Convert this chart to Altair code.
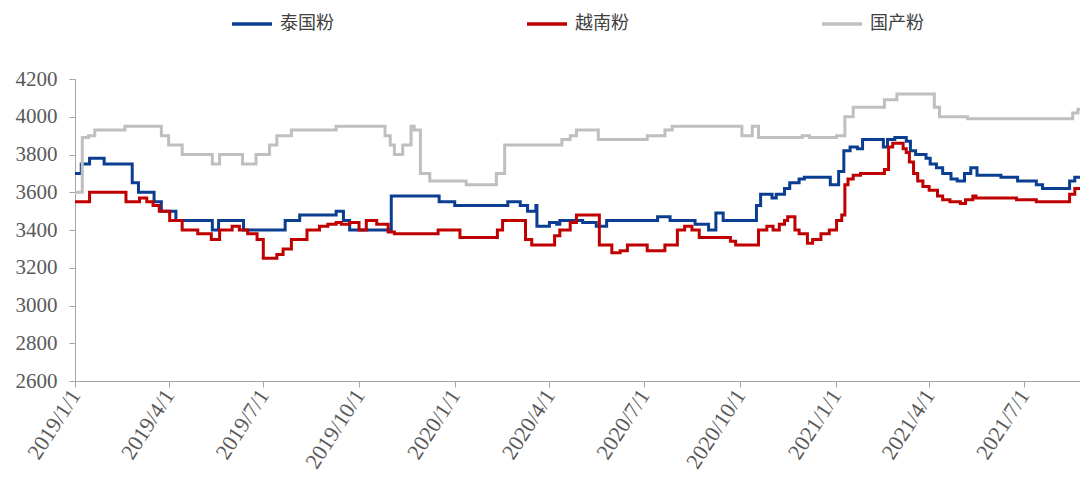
import altair as alt
import pandas as pd

series_names = ["泰国粉", "越南粉", "国产粉"]
series_colors = ["#0b3d91", "#c00000", "#bfbfbf"]

thai_dates = ["2019-01-01", "2019-01-07", "2019-01-15", "2019-01-29", "2019-02-25", "2019-03-03",
              "2019-03-18", "2019-03-25", "2019-04-08", "2019-05-13", "2019-05-19", "2019-06-12",
              "2019-07-22", "2019-08-05", "2019-09-09", "2019-09-16", "2019-09-22", "2019-11-01",
              "2019-12-17", "2020-01-01", "2020-02-21", "2020-03-04", "2020-03-11", "2020-03-19",
              "2020-03-20", "2020-04-01", "2020-04-08", "2020-04-11", "2020-05-03", "2020-05-16",
              "2020-05-26", "2020-07-14", "2020-07-26", "2020-08-19", "2020-09-01", "2020-09-08",
              "2020-09-15", "2020-10-17", "2020-10-21", "2020-11-01", "2020-11-05", "2020-11-13",
              "2020-11-18", "2020-11-27", "2020-12-02", "2020-12-27", "2021-01-04", "2021-01-09",
              "2021-01-15", "2021-01-22", "2021-01-27", "2021-02-16", "2021-02-20", "2021-02-27",
              "2021-03-10", "2021-03-14", "2021-03-19", "2021-03-29", "2021-04-02", "2021-04-08",
              "2021-04-14", "2021-04-22", "2021-04-28", "2021-05-05", "2021-05-11", "2021-05-17",
              "2021-06-09", "2021-06-25", "2021-07-13", "2021-07-19", "2021-08-14", "2021-08-19",
              "2021-08-26", "2021-08-30", "2021-09-01"]
thai_values = [3700, 3750, 3780, 3750, 3650, 3600,
               3550, 3500, 3450, 3400, 3450, 3400,
               3450, 3480, 3500, 3450, 3400, 3580,
               3550, 3530, 3550, 3530, 3500, 3530,
               3420, 3440, 3430, 3450, 3440, 3420,
               3450, 3470, 3450, 3430, 3400, 3490,
               3450, 3530, 3590, 3570, 3590, 3620,
               3650, 3670, 3680, 3640, 3710, 3820,
               3840, 3830, 3880, 3840, 3880, 3890,
               3870, 3820, 3800, 3780, 3750, 3730,
               3700, 3670, 3660, 3700, 3730, 3690,
               3680, 3660, 3640, 3620, 3660, 3680,
               3710, 3730, 3730]

viet_dates = ["2019-01-01", "2019-01-15", "2019-02-19", "2019-03-04", "2019-03-11", "2019-03-17",
              "2019-03-23", "2019-04-02", "2019-04-14", "2019-04-29", "2019-05-12", "2019-05-20",
              "2019-06-01", "2019-06-08", "2019-06-16", "2019-06-25", "2019-07-01", "2019-07-14",
              "2019-07-20", "2019-07-28", "2019-08-12", "2019-08-24", "2019-09-01", "2019-09-09",
              "2019-09-14", "2019-09-22", "2019-10-01", "2019-10-08", "2019-10-18", "2019-10-29",
              "2019-11-04", "2019-12-16", "2020-01-06", "2020-02-11", "2020-02-16", "2020-03-09",
              "2020-03-15", "2020-04-06", "2020-04-11", "2020-04-21", "2020-04-27", "2020-05-19",
              "2020-05-31", "2020-06-08", "2020-06-15", "2020-07-04", "2020-07-21", "2020-08-02",
              "2020-08-09", "2020-08-16", "2020-08-23", "2020-09-22", "2020-09-27", "2020-10-19",
              "2020-10-27", "2020-11-02", "2020-11-08", "2020-11-13", "2020-11-16", "2020-11-23",
              "2020-11-27", "2020-12-05", "2020-12-10", "2020-12-18", "2020-12-26", "2021-01-02",
              "2021-01-07", "2021-01-10", "2021-01-13", "2021-01-18", "2021-01-25", "2021-02-17",
              "2021-02-21", "2021-02-25", "2021-03-07", "2021-03-10", "2021-03-13", "2021-03-17",
              "2021-03-21", "2021-03-26", "2021-04-01", "2021-04-09", "2021-04-14", "2021-04-21",
              "2021-05-01", "2021-05-06", "2021-05-13", "2021-05-16", "2021-06-24", "2021-07-13",
              "2021-08-14", "2021-08-19", "2021-08-30", "2021-09-01"]
viet_values = [3550, 3600, 3550, 3570, 3550, 3530,
               3500, 3450, 3400, 3380, 3350, 3400,
               3420, 3400, 3380, 3350, 3250, 3270,
               3300, 3350, 3400, 3420, 3430, 3440,
               3430, 3440, 3400, 3450, 3430, 3390,
               3380, 3400, 3360, 3400, 3450, 3350,
               3320, 3370, 3400, 3440, 3480, 3320,
               3280, 3290, 3320, 3290, 3320, 3400,
               3420, 3400, 3360, 3340, 3320, 3400,
               3420, 3400, 3430, 3450, 3470, 3400,
               3380, 3330, 3350, 3380, 3400, 3450,
               3480, 3640, 3670, 3690, 3700, 3720,
               3840, 3860, 3830, 3810, 3760, 3700,
               3660, 3630, 3610, 3580, 3560, 3550,
               3540, 3560, 3580, 3570, 3560, 3550,
               3590, 3620, 3670, 3670]

dom_dates = ["2019-01-01", "2019-01-08", "2019-01-14", "2019-01-20", "2019-02-18", "2019-03-25",
             "2019-04-01", "2019-04-14", "2019-05-13", "2019-05-20", "2019-06-11", "2019-06-24",
             "2019-07-07", "2019-07-14", "2019-07-28", "2019-09-09", "2019-10-26", "2019-10-31",
             "2019-11-04", "2019-11-12", "2019-11-20", "2019-11-23", "2019-11-29", "2019-12-08",
             "2020-01-12", "2020-02-10", "2020-02-18", "2020-04-13", "2020-04-21", "2020-04-27",
             "2020-05-18", "2020-07-04", "2020-07-21", "2020-07-28", "2020-10-03", "2020-10-13",
             "2020-10-19", "2020-11-30", "2020-12-07", "2021-01-02", "2021-01-10", "2021-01-18",
             "2021-02-17", "2021-03-01", "2021-04-06", "2021-04-11", "2021-05-08", "2021-08-17",
             "2021-08-22", "2021-08-27", "2021-09-01"]
dom_values = [3600, 3890, 3900, 3930, 3950, 3900,
              3850, 3800, 3750, 3800, 3750, 3800,
              3850, 3900, 3930, 3950, 3900, 3850,
              3800, 3850, 3950, 3930, 3700, 3660,
              3640, 3700, 3850, 3880, 3900, 3930,
              3880, 3900, 3930, 3950, 3900, 3950,
              3890, 3900, 3890, 3900, 4000, 4050,
              4090, 4120, 4050, 4000, 3990, 4020,
              4040, 4050, 4050]

y_ticks = [2600, 2800, 3000, 3200, 3400, 3600, 3800, 4000, 4200]
x_ticks = ["2019-01-01", "2019-04-01", "2019-07-01", "2019-10-01", "2020-01-01", "2020-04-01",
           "2020-07-01", "2020-10-01", "2021-01-01", "2021-04-01", "2021-07-01"]

frames = []
for name, d, v in [(series_names[0], thai_dates, thai_values),
                   (series_names[1], viet_dates, viet_values),
                   (series_names[2], dom_dates, dom_values)]:
    frames.append(pd.DataFrame({"date": d, "value": v, "series": name}))
df = pd.concat(frames, ignore_index=True)

x_tick_ms = [int(pd.Timestamp(t).timestamp() * 1000) for t in x_ticks]

chart = alt.Chart(df).mark_line(interpolate="step-after", strokeWidth=3, clip=True).encode(
    x=alt.X("date:T",
            scale=alt.Scale(domain=["2019-01-01", "2021-08-24"], nice=False),
            axis=alt.Axis(values=x_tick_ms, format="%Y/%-m/%-d", labelAngle=-57, title=None,
                          grid=False, labelFont="Liberation Serif", labelFontSize=22,
                          labelColor="#595959", domainColor="#a6a6a6", tickColor="#a6a6a6",
                          tickSize=6, labelPadding=4, labelAlign="right", labelBaseline="middle",
                          labelOverlap=False, labelFlush=False)),
    y=alt.Y("value:Q",
            scale=alt.Scale(domain=[2600, 4200], nice=False, zero=False),
            axis=alt.Axis(values=y_ticks, format="d", title=None, grid=False,
                          labelFont="Liberation Serif",
                          labelFontSize=21, labelColor="#595959", domainColor="#a6a6a6",
                          tickColor="#a6a6a6", tickSize=6, labelPadding=12)),
    color=alt.Color("series:N",
                    scale=alt.Scale(domain=series_names, range=series_colors),
                    sort=series_names,
                    legend=alt.Legend(title=None, orient="none", direction="horizontal",
                                      legendX=155, legendY=-77, padding=0, symbolType="stroke",
                                      symbolSize=1600, symbolStrokeWidth=3.5,
                                      labelFont="Noto Sans CJK SC", labelFontSize=18,
                                      labelColor="#404040", labelOffset=6,
                                      columnPadding=186)),
).properties(
    width=1005, height=302,
    autosize=alt.AutoSizeParams(type="none"),
    padding={"left": 67, "top": 71, "right": 0, "bottom": 93},
).configure_view(stroke=None)

chart.save("out.html", embed_options={"renderer": "svg", "actions": False})
